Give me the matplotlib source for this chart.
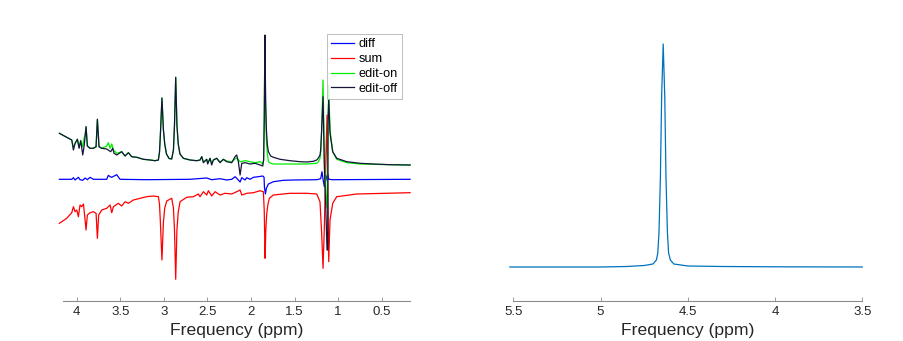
import numpy as np
import matplotlib
matplotlib.use("Agg")
import matplotlib.pyplot as plt
from matplotlib.ticker import FormatStrFormatter

plt.rcParams['font.family'] = ['Liberation Sans', 'DejaVu Sans']

# ---- left panel: edited spectra (ppm, intensity in arbitrary units) ----
off_ppm = [4.199, 4.115, 4.057, 4.038, 4.019, 3.992, 3.973, 3.954, 3.931, 3.916, 3.904, 3.893,
           3.878, 3.847, 3.809, 3.778, 3.763, 3.744, 3.713, 3.656, 3.610, 3.587, 3.572, 3.541,
           3.484, 3.445, 3.407, 3.369, 3.311, 3.235, 3.158, 3.101, 3.063, 3.050, 3.040, 3.022,
           3.005, 2.990, 2.970, 2.940, 2.910, 2.890, 2.878, 2.864, 2.850, 2.835, 2.815, 2.776,
           2.699, 2.623, 2.585, 2.565, 2.546, 2.508, 2.497, 2.470, 2.451, 2.432, 2.393, 2.355,
           2.317, 2.279, 2.221, 2.183, 2.164, 2.145, 2.125, 2.106, 2.068, 2.011, 1.953, 1.896,
           1.865, 1.855, 1.848, 1.840, 1.832, 1.823, 1.812, 1.800, 1.774, 1.743, 1.666, 1.552,
           1.437, 1.360, 1.284, 1.246, 1.226, 1.208, 1.200, 1.189, 1.173, 1.158, 1.142, 1.127,
           1.119, 1.116, 1.108, 1.093, 1.062, 1.016, 0.901, 0.748, 0.595, 0.404, 0.174]
off_val = [186.7, 182.7, 180.0, 170.0, 176.7, 180.7, 171.7, 179.3, 165.0, 173.3, 183.3, 193.3,
           174.0, 171.7, 171.7, 173.3, 200.7, 173.3, 171.7, 171.0, 168.3, 171.7, 166.7, 165.0,
           168.3, 164.0, 167.3, 163.3, 162.7, 160.7, 160.0, 159.3, 160.0, 168.0, 185.0, 222.0,
           190.0, 176.0, 166.0, 161.5, 161.0, 170.0, 195.0, 242.7, 195.0, 176.0, 166.0, 161.7,
           160.0, 159.3, 160.0, 163.3, 157.3, 160.7, 156.0, 161.7, 155.0, 160.0, 161.7, 157.3,
           160.7, 158.3, 157.3, 163.3, 165.0, 158.3, 145.0, 156.7, 157.3, 156.0, 156.7, 155.0,
           154.0, 160.0, 200.0, 285.0, 220.0, 190.0, 175.0, 168.3, 164.0, 162.7, 160.7, 159.3,
           158.3, 158.0, 158.7, 160.0, 162.0, 165.0, 170.0, 190.0, 223.3, 153.3, 113.3, 70.0,
           70.0, 200.0, 220.0, 186.7, 168.3, 161.7, 158.3, 156.7, 156.0, 155.3, 155.0]

on_ppm = [4.199, 4.115, 4.057, 4.038, 4.019, 3.992, 3.973, 3.954, 3.931, 3.916, 3.904, 3.893,
          3.878, 3.847, 3.809, 3.778, 3.763, 3.744, 3.713, 3.656, 3.637, 3.617, 3.598, 3.579,
          3.541, 3.484, 3.445, 3.407, 3.369, 3.311, 3.235, 3.158, 3.101, 3.063, 3.050, 3.040,
          3.022, 3.005, 2.990, 2.970, 2.940, 2.910, 2.890, 2.878, 2.864, 2.850, 2.835, 2.815,
          2.776, 2.699, 2.623, 2.585, 2.565, 2.546, 2.508, 2.497, 2.470, 2.451, 2.432, 2.393,
          2.355, 2.317, 2.279, 2.221, 2.183, 2.164, 2.125, 2.068, 2.011, 1.953, 1.896, 1.865,
          1.855, 1.848, 1.840, 1.832, 1.823, 1.812, 1.800, 1.774, 1.743, 1.552, 1.360, 1.246,
          1.226, 1.208, 1.200, 1.189, 1.173, 1.158, 1.142, 1.127, 1.119, 1.108, 1.093, 1.062,
          1.016, 0.901, 0.748, 0.404, 0.174]
on_val = [186.7, 182.7, 180.0, 172.0, 176.7, 180.7, 173.0, 179.3, 173.3, 181.7, 185.0, 193.3,
          174.0, 171.7, 171.7, 173.3, 200.7, 173.3, 171.7, 174.0, 177.3, 171.7, 176.0, 170.0,
          166.7, 168.3, 164.0, 167.3, 163.3, 162.7, 160.7, 160.0, 159.3, 160.0, 168.0, 185.0,
          222.0, 190.0, 176.0, 166.0, 161.5, 161.0, 170.0, 195.0, 242.7, 195.0, 176.0, 166.0,
          161.7, 160.0, 159.3, 160.0, 163.3, 158.0, 160.7, 157.0, 161.7, 156.5, 160.0, 161.7,
          158.0, 160.7, 159.0, 158.0, 161.0, 162.0, 158.3, 159.3, 158.3, 157.3, 158.3, 156.0,
          160.0, 198.0, 276.7, 210.0, 180.0, 166.0, 158.3, 156.7, 156.0, 156.0, 156.0, 156.7,
          158.3, 161.7, 166.7, 190.0, 240.0, 160.0, 126.7, 111.7, 166.7, 234.0, 190.0, 168.3,
          160.7, 157.3, 156.0, 155.3, 155.0]

diff_ppm = [4.199, 4.057, 4.038, 4.019, 3.981, 3.962, 3.931, 3.904, 3.878, 3.847, 3.809, 3.656,
            3.637, 3.617, 3.598, 3.541, 3.503, 3.200, 2.700, 2.508, 2.451, 2.355, 2.279, 2.221,
            2.183, 2.164, 2.125, 2.106, 2.068, 2.049, 2.011, 1.972, 1.915, 1.865, 1.850, 1.846,
            1.835, 1.823, 1.800, 1.743, 1.628, 1.513, 1.246, 1.200, 1.185, 1.173, 1.158, 1.131,
            1.119, 1.108, 1.062, 0.174]
diff_val = [140.7, 140.7, 142.3, 140.0, 142.7, 140.3, 139.7, 142.0, 140.3, 142.7, 140.7, 140.7,
            144.7, 143.3, 142.7, 145.3, 140.7, 140.3, 140.7, 142.0, 140.3, 141.3, 140.0, 140.7,
            143.3, 141.7, 138.0, 142.3, 140.0, 142.3, 140.7, 142.7, 143.3, 144.0, 142.7, 133.3,
            126.0, 131.7, 136.0, 138.3, 139.7, 140.0, 140.3, 141.3, 148.3, 140.7, 133.3, 143.3,
            146.0, 140.7, 140.3, 140.7]

sum_ppm = [4.199, 4.115, 4.057, 4.038, 4.019, 4.000, 3.981, 3.962, 3.943, 3.923, 3.904, 3.893,
           3.878, 3.847, 3.809, 3.778, 3.763, 3.748, 3.713, 3.656, 3.617, 3.598, 3.579, 3.522,
           3.484, 3.445, 3.407, 3.350, 3.273, 3.197, 3.120, 3.063, 3.050, 3.040, 3.022, 3.005,
           2.990, 2.967, 2.910, 2.890, 2.878, 2.864, 2.850, 2.835, 2.814, 2.738, 2.661, 2.604,
           2.585, 2.546, 2.508, 2.489, 2.451, 2.412, 2.355, 2.298, 2.221, 2.164, 2.125, 2.106,
           2.049, 1.972, 1.896, 1.858, 1.848, 1.838, 1.830, 1.819, 1.805, 1.789, 1.743, 1.552,
           1.360, 1.246, 1.208, 1.189, 1.173, 1.158, 1.139, 1.127, 1.119, 1.108, 1.093, 1.062,
           1.016, 0.787, 0.174]
sum_val = [96.7, 101.7, 107.3, 113.3, 108.3, 110.0, 103.3, 115.0, 113.3, 116.0, 100.0, 90.0,
           105.0, 107.3, 108.3, 106.7, 81.7, 105.0, 110.0, 111.7, 115.0, 107.3, 113.3, 116.7,
           114.0, 118.3, 116.7, 120.0, 121.7, 123.3, 124.0, 123.3, 116.0, 98.0, 60.0, 98.0,
           112.0, 119.0, 121.7, 112.0, 90.0, 40.7, 90.0, 108.0, 118.3, 122.7, 123.3, 126.0,
           123.3, 128.3, 125.0, 129.3, 124.0, 128.3, 125.0, 126.7, 126.0, 128.3, 130.0, 125.0,
           126.7, 127.3, 129.3, 128.3, 110.0, 61.7, 90.0, 106.7, 116.0, 121.7, 125.0, 126.7,
           126.7, 126.0, 118.3, 86.7, 51.7, 93.3, 166.7, 205.0, 133.3, 58.3, 100.0, 116.7,
           123.3, 126.0, 127.3]

# ---- right panel: water reference ----
water_ppm = [5.52, 5.0, 4.85, 4.75, 4.70, 4.68, 4.672, 4.665, 4.657, 4.650, 4.641, 4.632,
             4.625, 4.617, 4.610, 4.60, 4.58, 4.5, 4.3, 4.0, 3.5]
water_val = [0, 0, 0.5, 1.5, 3, 7, 14, 35, 90, 170, 223, 170, 90, 35, 14, 7, 3, 1, 0.5, 0.2, 0]

fig = plt.figure(figsize=(9.04, 3.41), dpi=100)
ax1 = fig.add_axes([62.7 / 904, 1 - 301 / 341, 347.3 / 904, 281 / 341])
ax2 = fig.add_axes([513.3 / 904, 1 - 301 / 341, 349 / 904, 281 / 341])

lw = 0.9
ax1.plot(diff_ppm, diff_val, color='#0000ff', lw=lw, label='diff', clip_on=False)
ax1.plot(sum_ppm, sum_val, color='#ff0000', lw=lw, label='sum', clip_on=False)
ax1.plot(on_ppm, on_val, color='#00ee00', lw=lw, label='edit-on', clip_on=False)
ax1.plot(off_ppm, off_val, color='#14143c', lw=lw, label='edit-off', clip_on=False)
ax1.set_xlim(4.161, 0.175)
ax1.set_ylim(19, 300)
ax1.set_xticks([4, 3.5, 3, 2.5, 2, 1.5, 1, 0.5])

ax2.plot(water_ppm, water_val, color='#0072bd', lw=lw, clip_on=False)
ax2.set_xlim(5.5, 3.5)
ax2.set_ylim(-34, 247)
ax2.set_xticks([5.5, 5, 4.5, 4, 3.5])

for ax in (ax1, ax2):
    for s in ('left', 'right', 'top'):
        ax.spines[s].set_visible(False)
    ax.spines['bottom'].set_color('#8c8c8c')
    ax.spines['bottom'].set_linewidth(0.8)
    ax.set_yticks([])
    ax.xaxis.set_major_formatter(FormatStrFormatter('%g'))
    ax.tick_params(axis='x', direction='in', length=3, width=0.6, color='#8c8c8c',
                   labelsize=9.5, labelcolor='#262626', pad=3.5)
    ax.set_xlabel('Frequency (ppm)', fontsize=12.6, color='#262626', labelpad=4)
    ax.patch.set_visible(False)

leg = ax1.legend(loc='upper right', bbox_to_anchor=(402 / 904, 1 - 34 / 341),
                 bbox_transform=fig.transFigure, fontsize=9.2, frameon=True, fancybox=False,
                 borderaxespad=0, handlelength=1.8, handletextpad=0.3, labelspacing=0.22,
                 borderpad=0.35)
leg.get_frame().set_edgecolor('#a0a0a0')
leg.get_frame().set_linewidth(0.6)

fig.savefig('out.png', dpi=100)
